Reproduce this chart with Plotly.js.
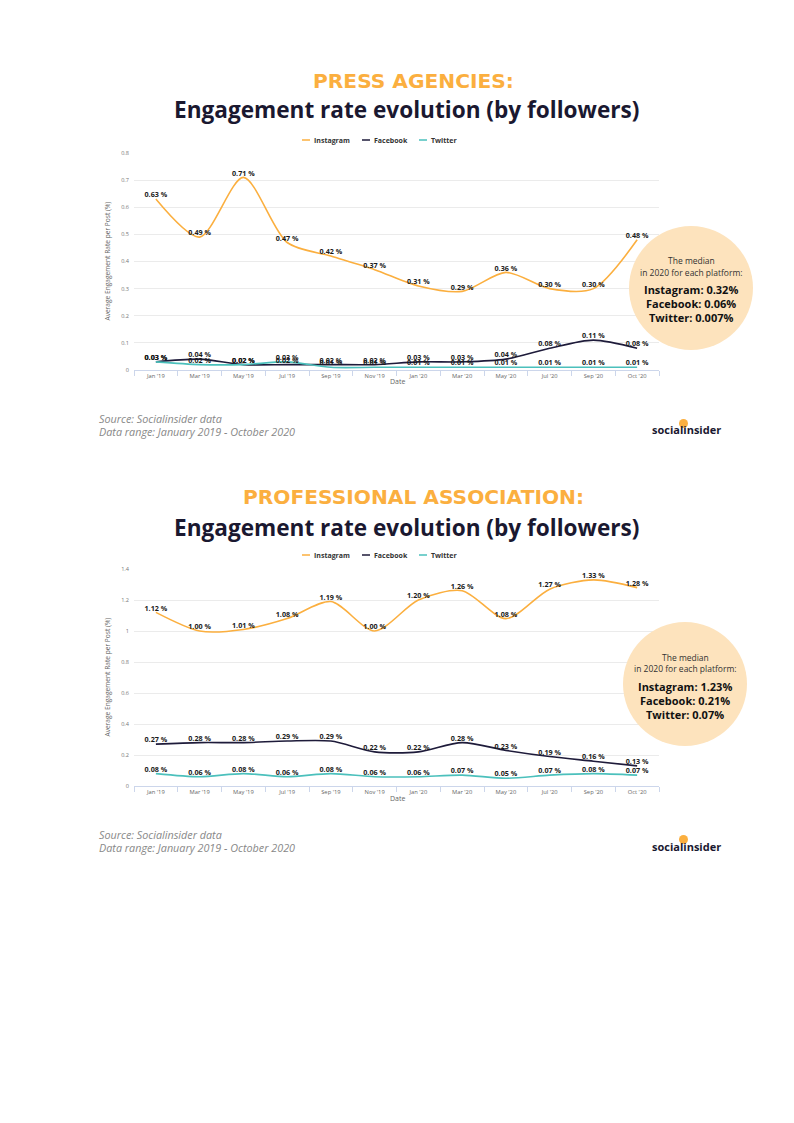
<!DOCTYPE html>
<html><head><meta charset="utf-8">
<script src="https://cdn.plot.ly/plotly-3.0.1.min.js"></script>
<style>html,body{margin:0;padding:0;background:#fff}#chart{width:794px;height:1123px}</style>
</head><body><div id="chart"></div>
<script>
// ---------- data ----------
const categories = ["Jan '19","Mar '19","May '19","Jul '19","Sep '19","Nov '19","Jan '20","Mar '20","May '20","Jul '20","Sep '20","Oct '20"];

const pressInstagram = [0.63, 0.49, 0.71, 0.47, 0.42, 0.37, 0.31, 0.29, 0.36, 0.30, 0.30, 0.48];
const pressFacebook  = [0.03, 0.04, 0.02, 0.02, 0.02, 0.02, 0.03, 0.03, 0.04, 0.08, 0.11, 0.08];
const pressTwitter   = [0.03, 0.02, 0.02, 0.03, 0.01, 0.01, 0.01, 0.01, 0.01, 0.01, 0.01, 0.01];

const proInstagram = [1.12, 1.00, 1.01, 1.08, 1.19, 1.00, 1.20, 1.26, 1.08, 1.27, 1.33, 1.28];
const proFacebook  = [0.27, 0.28, 0.28, 0.29, 0.29, 0.22, 0.22, 0.28, 0.23, 0.19, 0.16, 0.13];
const proTwitter   = [0.08, 0.06, 0.08, 0.06, 0.08, 0.06, 0.06, 0.07, 0.05, 0.07, 0.08, 0.07];

const seriesNames = ["Instagram", "Facebook", "Twitter"];
const pressMedians = ["Instagram: 0.32%", "Facebook: 0.06%", "Twitter: 0.007%"];
const proMedians   = ["Instagram: 1.23%", "Facebook: 0.21%", "Twitter: 0.07%"];

// ---------- styles ----------
const COLORS = ["#FBAF3F", "#1E1B3A", "#4BC0BC"];
const W = 794, H = 1123;
const X = px => px / W;
const Y = py => 1 - py / H;
const FONT = "Open Sans, Roboto, sans-serif";
const WIDE = "DejaVu Sans, Open Sans, sans-serif";

const traces = [];
const annotations = [];
const shapes = [];

function addChart(idx, series, medians, title1, geom) {
  const xa = idx === 1 ? 'x' : 'x' + idx;
  const ya = idx === 1 ? 'y' : 'y' + idx;
  series.forEach((vals, i) => {
    traces.push({
      type: 'scatter', mode: 'lines', x: categories, y: vals, xaxis: xa, yaxis: ya,
      name: seriesNames[i], showlegend: false,
      line: {color: COLORS[i], width: 1.6, shape: 'spline', smoothing: 0.8},
      hoverinfo: 'skip'
    });
  });
  series.forEach((vals, i) => {
    traces.push({
      type: 'scatter', mode: 'text', x: categories, y: vals, xaxis: xa, yaxis: ya,
      text: vals.map(v => v.toFixed(2) + ' %'), textposition: 'top center',
      textfont: {family: FONT, size: 7.2, color: '#1a1a1a', weight: 700},
      showlegend: false, hoverinfo: 'skip', cliponaxis: false
    });
  });
  // titles
  annotations.push({xref:'paper', yref:'paper', x: X(413), y: Y(geom.t1), xanchor:'center', yanchor:'middle',
    text: title1, showarrow:false, font:{family: WIDE, size: 20.2, color:'#FBAF3F', weight: 700}});
  annotations.push({xref:'paper', yref:'paper', x: X(407), y: Y(geom.t2), xanchor:'center', yanchor:'middle',
    text: 'Engagement rate evolution (by followers)', showarrow:false, font:{family: FONT, size: 22.6, color:'#1A1830', weight: 700}});
  // legend
  const legX = [[302, 312], [362, 372], [419, 429]];
  seriesNames.forEach((n, i) => {
    shapes.push({type:'line', xref:'paper', yref:'paper', x0: X(legX[i][0]), x1: X(legX[i][0] + 8),
      y0: Y(geom.leg), y1: Y(geom.leg), line:{color: COLORS[i], width: 1.5}});
    annotations.push({xref:'paper', yref:'paper', x: X(legX[i][1]), y: Y(geom.leg), xanchor:'left', yanchor:'middle',
      text: n, showarrow:false, font:{family: FONT, size: 7, color:'#333', weight: 700}});
  });
  // median circle
  const c = geom.circle;
  shapes.push({type:'circle', xref:'paper', yref:'paper', layer:'above',
    x0: X(c.cx - c.r), x1: X(c.cx + c.r), y0: Y(c.cy + c.r), y1: Y(c.cy - c.r),
    fillcolor:'#FDE3BD', line:{width:0}});
  annotations.push({xref:'paper', yref:'paper', x: X(c.cx), y: Y(c.lines[0]), xanchor:'center', yanchor:'middle',
    text:'The median', showarrow:false, font:{family: FONT, size: 8.5, color:'#333'}});
  annotations.push({xref:'paper', yref:'paper', x: X(c.cx), y: Y(c.lines[1]), xanchor:'center', yanchor:'middle',
    text:'in 2020 for each platform:', showarrow:false, font:{family: FONT, size: 8.5, color:'#333'}});
  medians.forEach((m, i) => {
    annotations.push({xref:'paper', yref:'paper', x: X(c.cx), y: Y(c.lines[2 + i]), xanchor:'center', yanchor:'middle',
      text: m, showarrow:false, font:{family: FONT, size: 11, color:'#111', weight: 700}});
  });
  // source
  annotations.push({xref:'paper', yref:'paper', x: X(97), y: Y(geom.src), xanchor:'left', yanchor:'middle',
    text:'<i>Source: Socialinsider data</i>', showarrow:false, font:{family: FONT, size: 10.8, color:'#888'}});
  annotations.push({xref:'paper', yref:'paper', x: X(97), y: Y(geom.src + 13), xanchor:'left', yanchor:'middle',
    text:'<i>Data range: January 2019 - October 2020</i>', showarrow:false, font:{family: FONT, size: 10.8, color:'#888'}});
  // logo
  annotations.push({xref:'paper', yref:'paper', x: X(650), y: Y(geom.src + 12), xanchor:'left', yanchor:'middle',
    text:'socialinsider', showarrow:false, font:{family: FONT, size: 11, color:'#1A1830', weight: 700}});
  shapes.push({type:'circle', xref:'paper', yref:'paper', layer:'above',
    x0: X(679), x1: X(688), y0: Y(geom.src + 10), y1: Y(geom.src + 1),
    fillcolor:'#FBAF3F', line:{width:0}});
  // axis titles
  annotations.push({xref:'paper', yref:'paper', x: X(107), y: Y((geom.top + geom.bot) / 2), xanchor:'center', yanchor:'middle',
    text:'Average Engagement Rate per Post (%)', textangle:-90, showarrow:false, font:{family: FONT, size: 6.6, color:'#666'}});
  annotations.push({xref:'paper', yref:'paper', x: X(397), y: Y(geom.bot + 12), xanchor:'center', yanchor:'middle',
    text:'Date', showarrow:false, font:{family: FONT, size: 7, color:'#666'}});
}

addChart(1, [pressInstagram, pressFacebook, pressTwitter], pressMedians, 'PRESS AGENCIES:',
  {t1: 81, t2: 110, leg: 140, top: 153, bot: 370, src: 418,
   circle: {cx: 691, cy: 288, r: 62, lines: [260, 272, 290, 304, 318]}});
addChart(2, [proInstagram, proFacebook, proTwitter], proMedians, 'PROFESSIONAL ASSOCIATION:',
  {t1: 497, t2: 527, leg: 555, top: 569, bot: 786, src: 834,
   circle: {cx: 685, cy: 684, r: 62, lines: [657, 668, 686, 700, 714]}});

function xAxis(anchor, dom) {
  return {domain: dom, anchor: anchor, type:'category', categoryorder:'array', categoryarray: categories,
    range:[-0.5, 11.5], tickson:'boundaries', ticks:'outside', ticklen:5, tickcolor:'#ccd6eb', tickwidth:1,
    showline:true, linecolor:'#ccd6eb', linewidth:1, showgrid:false, zeroline:false,
    tickfont:{family: FONT, size: 5.8, color:'#666'}, fixedrange:true};
}
function yAxis(anchor, dom, max, dt) {
  return {domain: dom, anchor: anchor, range:[0, max], dtick: dt, tick0: 0, showgrid:true, gridcolor:'#ebebeb', gridwidth:1,
    zeroline:false, showline:false, ticks:'', ticklabelstandoff: 4,
    tickfont:{family: FONT, size: 5.6, color:'#777'}, fixedrange:true};
}

const layout = {
  width: W, height: H, margin:{l:0, r:0, t:0, b:0}, paper_bgcolor:'#fff', plot_bgcolor:'rgba(0,0,0,0)',
  showlegend:false,
  xaxis: xAxis('y', [X(134), X(659)]),
  yaxis: yAxis('x', [Y(370), Y(153)], 0.8, 0.1),
  xaxis2: xAxis('y2', [X(134), X(659)]),
  yaxis2: yAxis('x2', [Y(786), Y(569)], 1.4, 0.2),
  annotations, shapes
};

Plotly.newPlot('chart', traces, layout, {staticPlot:true, displayModeBar:false});
</script></body></html>
